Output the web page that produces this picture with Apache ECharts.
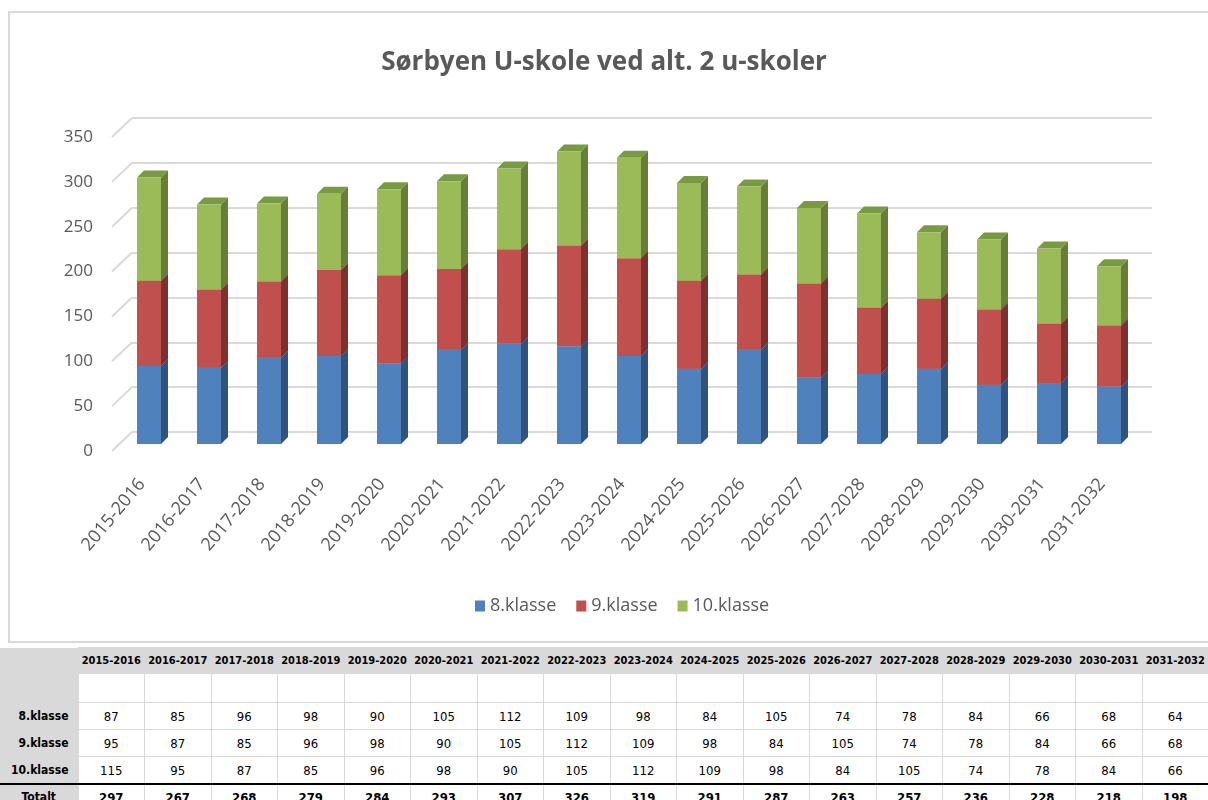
<!DOCTYPE html>
<html>
<head>
<meta charset="utf-8">
<script src="https://cdn.jsdelivr.net/npm/echarts@6/dist/echarts.min.js"></script>
<style>
  html,body{margin:0;padding:0;background:#fff;width:1208px;height:800px;overflow:hidden;}
  #chart{position:absolute;left:0;top:0;width:1208px;height:645px;}
  #tbl{position:absolute;left:0;top:647px;width:1208px;border-collapse:collapse;table-layout:fixed;
       font-family:"DejaVu Sans Condensed",sans-serif;color:#000;}
  #tbl td{padding:0;text-align:center;font-size:13px;border:1px solid #d9d9d9;white-space:nowrap;overflow:hidden;}
  #tbl tr.head td{background:#d9d9d9;font-weight:bold;font-size:11px;height:25px;border-color:#d9d9d9;}
  #tbl td.lab{border:none;background:#d9d9d9;text-align:right;padding-right:9px;font-weight:bold;font-size:12px;}
  #tbl tr.blank td{height:28px;}
  #tbl tr.val td{height:26px;}
  #tbl tr.tot td{font-weight:bold;height:24px;border-top:2px solid #000;}
  #tbl tr.tot td.lab{border-top:2px solid #000;text-align:center;padding-right:0;}
</style>
</head>
<body>
<div id="chart"></div>
<table id="tbl"></table>
<script>
const categories = ['2015-2016','2016-2017','2017-2018','2018-2019','2019-2020','2020-2021','2021-2022','2022-2023','2023-2024','2024-2025','2025-2026','2026-2027','2027-2028','2028-2029','2029-2030','2030-2031','2031-2032'];
const klasse8  = [87,85,96,98,90,105,112,109,98,84,105,74,78,84,66,68,64];
const klasse9  = [95,87,85,96,98,90,105,112,109,98,84,105,74,78,84,66,68];
const klasse10 = [115,95,87,85,96,98,90,105,112,109,98,84,105,74,78,84,66];
const yTicks = [0,50,100,150,200,250,300,350];
const seriesNames = ['8.klasse','9.klasse','10.klasse'];

const seriesData = [klasse8, klasse9, klasse10];
const faceColors = [
  {front:'#4F81BD', side:'#30527F', top:'#3E6A9E'},
  {front:'#C0504D', side:'#7D302E', top:'#9E3E3B'},
  {front:'#9BBB59', side:'#667E38', top:'#789A42'}
];

function makeRender(c){
  return function(params, api){
    const i = api.value(0), base = api.value(1), topv = api.value(2);
    const p0 = api.coord([i, base]);
    const p1 = api.coord([i, topv]);
    const bw = api.size([1,0])[0]*0.4;
    const dx = -13, dy = 12, d = 7;
    const L = p0[0] + dx - bw/2, R = L + bw;
    const B = p0[1] + dy, T = p1[1] + dy;
    return {type:'group', children:[
      {type:'polygon', shape:{points:[[R,B],[R+d,B-d],[R+d,T-d],[R,T]]}, style:{fill:c.side}},
      {type:'polygon', shape:{points:[[L,T],[R,T],[R+d,T-d],[L+d,T-d]]}, style:{fill:c.top}},
      {type:'rect', shape:{x:L,y:T,width:bw,height:B-T}, style:{fill:c.front}}
    ]};
  };
}

const cum = categories.map(()=>0);
const barSeries = seriesData.map((arr, s) => {
  const data = arr.map((v, i) => { const b = cum[i]; cum[i] += v; return [i, b, b+v]; });
  return {
    name: seriesNames[s], type:'custom', xAxisIndex:0, yAxisIndex:0,
    itemStyle:{color: faceColors[s].front},
    renderItem: makeRender(faceColors[s]),
    encode:{x:0, y:[1,2]},
    data: data, z: 3
  };
});

const diagSeries = {
  type:'custom', xAxisIndex:1, yAxisIndex:1, silent:true, z:1,
  renderItem: function(params, api){
    const v = api.value(0);
    const p = api.coord([0, v]);
    const x0 = params.coordSys.x;
    return {type:'line', shape:{x1:x0, y1:p[1], x2:x0+20, y2:p[1]-19},
            style:{stroke:'#d9d9d9', lineWidth:2}};
  },
  encode:{y:0},
  data: yTicks.map(v => [v])
};

const chart = echarts.init(document.getElementById('chart'), null, {renderer:'canvas'});
chart.setOption({
  animation:false,
  backgroundColor:'#fff',
  title:{text:'Sørbyen U-skole ved alt. 2 u-skoler', left:'center', top:45,
         textStyle:{fontFamily:'Open Sans', fontSize:26, fontWeight:'bold', color:'#595959'}},
  legend:{data:seriesNames, top:592, left:470, icon:'rect', itemWidth:10, itemHeight:11, itemGap:20,
          textStyle:{fontFamily:'Open Sans', fontSize:18, color:'#595959'}},
  graphic:[{type:'rect', shape:{x:9, y:12, width:1230, height:630}, style:{fill:'none', stroke:'#d9d9d9', lineWidth:2}, silent:true, z:-1}],
  grid:[
    {left:132, top:118, width:1020, height:314},
    {left:112, top:137, width:1020, height:314}
  ],
  xAxis:[
    {type:'category', gridIndex:0, data:categories, show:false},
    {type:'category', gridIndex:1, data:categories, axisLine:{show:false}, axisTick:{show:false},
     axisLabel:{rotate:50, margin:30, fontFamily:'Open Sans', fontSize:18, color:'#595959', interval:0}}
  ],
  yAxis:[
    {type:'value', gridIndex:0, min:0, max:350, interval:50, axisLabel:{show:false}, axisLine:{show:false}, axisTick:{show:false},
     splitLine:{show:true, lineStyle:{color:'#d9d9d9', width:2}}},
    {type:'value', gridIndex:1, min:0, max:350, interval:50, axisLine:{show:false}, axisTick:{show:false},
     splitLine:{show:false}, axisLabel:{margin:19, fontFamily:'Open Sans', fontSize:17, color:'#595959'}}
  ],
  series:[diagSeries].concat(barSeries)
});

// data table
const tbl = document.getElementById('tbl');
let html = '<colgroup><col style="width:78px">' + categories.map(()=>'<col style="width:66.5px">').join('') + '</colgroup>';
html += '<tr class="head"><td class="lab"></td>' + categories.map(c=>'<td>'+c+'</td>').join('') + '</tr>';
html += '<tr class="blank"><td class="lab"></td>' + categories.map(()=>'<td></td>').join('') + '</tr>';
seriesData.forEach((arr, s) => {
  html += '<tr class="val"><td class="lab">'+seriesNames[s]+'</td>' + arr.map(v=>'<td>'+v+'</td>').join('') + '</tr>';
});
html += '<tr class="tot"><td class="lab">Totalt</td>' + categories.map((c,i)=>'<td>'+(klasse8[i]+klasse9[i]+klasse10[i])+'</td>').join('') + '</tr>';
tbl.innerHTML = html;
</script>
</body>
</html>
